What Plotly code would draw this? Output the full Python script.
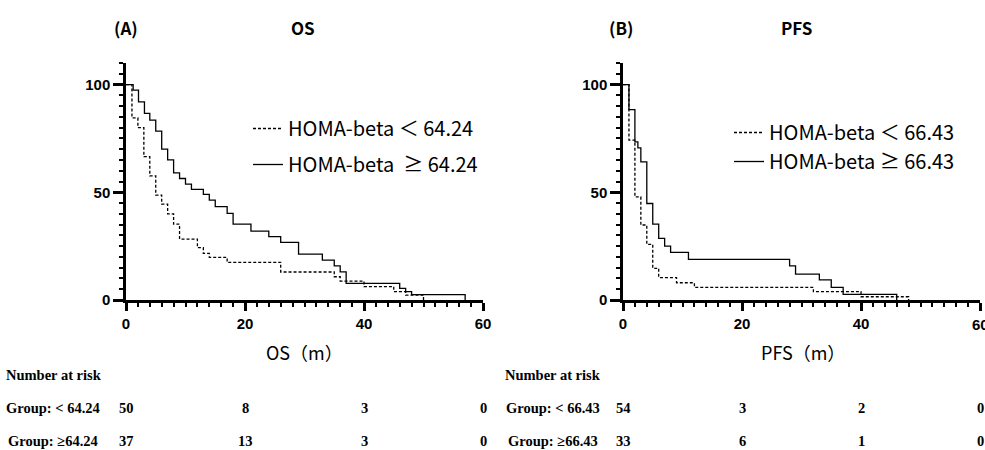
import plotly.graph_objects as go

# ---- data ----
os_low_t = [0, 1, 2, 3, 4, 5, 6, 7, 8, 9, 12, 13, 14, 17, 26, 35, 36, 40, 45, 47, 50]
os_low_s = [100, 84.5, 80, 66.5, 57.6, 48.7, 44.5, 40, 35.2, 28.3, 24.3, 21.6, 19.8, 17.5, 13, 10.8, 8.8, 6.2, 3.9, 2.3, 0]
os_high_t = [0, 1.2, 2.1, 3.1, 4, 5, 6, 7, 8, 9, 10, 11, 13, 14, 15, 17, 18, 21, 24, 26, 29, 33, 35, 36, 37, 46, 47, 48, 57]
os_high_s = [100, 97.4, 92, 86.6, 83.5, 78.4, 70, 65, 59, 56.4, 53.8, 51.3, 49, 46.4, 43.3, 40.2, 35.2, 32, 29.4, 26.7, 21.3, 18.5, 15.8, 13.1, 7.7, 5.4, 3.9, 2.5, 0]

pfs_low_t = [0, 1, 2, 3, 4, 5, 6, 9, 12, 32, 40, 48]
pfs_low_s = [100, 74.2, 47.9, 34.8, 25.8, 14.7, 10.4, 8, 5.9, 3.9, 1.5, 0]
pfs_high_t = [0, 1, 2, 2.5, 3, 4, 5, 6, 7, 8, 11, 28, 29, 33, 35, 37, 46]
pfs_high_s = [100, 88.4, 73.4, 70.6, 64.1, 44.8, 35.2, 28.6, 25, 22.1, 18.9, 15.8, 12, 9.3, 5.9, 2.6, 0]

risk_times = [0, 20, 40, 60]
os_risk_low = [50, 8, 3, 0]
os_risk_high = [37, 13, 3, 0]
pfs_risk_low = [54, 3, 2, 0]
pfs_risk_high = [33, 6, 1, 0]

os_names = ["HOMA-beta ＜ 64.24", "HOMA-beta  ≥ 64.24"]
pfs_names = ["HOMA-beta ＜ 66.43", "HOMA-beta ≥ 66.43"]
os_groups = ["Group: < 64.24", "Group: ≥64.24"]
pfs_groups = ["Group: < 66.43", "Group: ≥66.43"]

W, H = 985, 450
CJK = "Noto Sans CJK JP"
SERIF = "Liberation Serif"

fig = go.Figure()

def add_curve(t, s, name, dash, xa, ya, leg, grp):
    fig.add_trace(go.Scatter(
        x=t, y=s, mode="lines", line=dict(color="black", width=1.3, dash=dash, shape="hv"),
        name=name, xaxis=xa, yaxis=ya, legend=leg, legendgroup=grp, showlegend=True,
        cliponaxis=False,
    ))

add_curve(os_low_t, os_low_s, os_names[0], "3px,2px", "x", "y", "legend", "a")
add_curve(os_high_t, os_high_s, os_names[1], "solid", "x", "y", "legend", "b")
add_curve(pfs_low_t, pfs_low_s, pfs_names[0], "3px,2px", "x2", "y2", "legend2", "c")
add_curve(pfs_high_t, pfs_high_s, pfs_names[1], "solid", "x2", "y2", "legend2", "d")

tickfont = dict(family="Liberation Sans", size=15, color="black", weight="bold")

def xax(dom, anchor):
    return dict(domain=dom, anchor=anchor, range=[0, 60], tickmode="linear", tick0=0, dtick=20,
                ticks="outside", ticklen=8, tickwidth=2.5, tickcolor="black",
                showline=True, linewidth=2.5, linecolor="black", showgrid=False, zeroline=False,
                minor=dict(dtick=2, tick0=0, ticks="outside", ticklen=4, tickwidth=2, tickcolor="black", showgrid=False),
                tickfont=tickfont, fixedrange=True, automargin=False)

def yax(anchor):
    return dict(domain=[150 / H, 387 / H], anchor=anchor, range=[0, 110], tickmode="linear", tick0=0, dtick=50,
                ticks="outside", ticklen=10, tickwidth=2.5, tickcolor="black",
                showline=True, linewidth=2.5, linecolor="black", showgrid=False, zeroline=False,
                minor=dict(dtick=5, tick0=0, ticks="outside", ticklen=4, tickwidth=2, tickcolor="black", showgrid=False),
                tickfont=tickfont, fixedrange=True, automargin=False)

annotations = []

def ann(text, x, y, xref="paper", font=None, xanchor="center"):
    annotations.append(dict(text=text, x=x, y=y, xref=xref, yref="paper", showarrow=False,
                            xanchor=xanchor, yanchor="middle", font=font))

title_font = dict(family=CJK, size=17, color="black", weight="bold")
axis_title_font = dict(family=CJK, size=18, color="black")
table_font = dict(family=SERIF, size=14.5, color="black", weight="bold")

def py(p):
    return 1 - p / H

ann("(A)", 126 / W, py(27), font=title_font)
ann("OS", 303 / W, py(28), font=title_font)
ann("(B)", 621 / W, py(27), font=title_font)
ann("PFS", 796 / W, py(28), font=title_font)

ann("OS（m）", 304 / W, py(352), font=axis_title_font)
ann("PFS（m）", 803 / W, py(352), font=axis_title_font)

# the right panel's last tick label is cut by the page edge in the original
ann("60", 60, py(324), xref="x2", font=tickfont)

ann("Number at risk", 4 / W, py(375), font=table_font, xanchor="left")
ann(os_groups[0], 4 / W, py(408), font=table_font, xanchor="left")
ann(os_groups[1], 6 / W, py(441), font=table_font, xanchor="left")
ann("Number at risk", 503 / W, py(375), font=table_font, xanchor="left")
ann(pfs_groups[0], 504 / W, py(408), font=table_font, xanchor="left")
ann(pfs_groups[1], 506 / W, py(441), font=table_font, xanchor="left")

for t, a, b in zip(risk_times, os_risk_low, os_risk_high):
    ann(str(a), t, py(408), xref="x", font=table_font)
    ann(str(b), t, py(441), xref="x", font=table_font)
for t, a, b in zip(risk_times, pfs_risk_low, pfs_risk_high):
    ann(str(a), t, py(408), xref="x2", font=table_font)
    ann(str(b), t, py(441), xref="x2", font=table_font)

legend_font = dict(family=CJK, size=20, color="black")

fig.update_layout(
    width=W, height=H, margin=dict(l=0, r=0, t=0, b=0, autoexpand=False),
    paper_bgcolor="white", plot_bgcolor="white",
    xaxis=xax([126 / W, 483 / W], "y"),
    yaxis=yax("x"),
    xaxis2=xax([623 / W, 980 / W], "y2"),
    yaxis2=yax("x2"),
    legend=dict(x=248 / W, y=py(109), xanchor="left", yanchor="top", font=legend_font,
                bgcolor="rgba(0,0,0,0)", tracegroupgap=7),
    legend2=dict(x=729 / W, y=py(113), xanchor="left", yanchor="top", font=legend_font,
                 bgcolor="rgba(0,0,0,0)", tracegroupgap=0),
    annotations=annotations,
    showlegend=True,
)

fig.write_html("out.html")
